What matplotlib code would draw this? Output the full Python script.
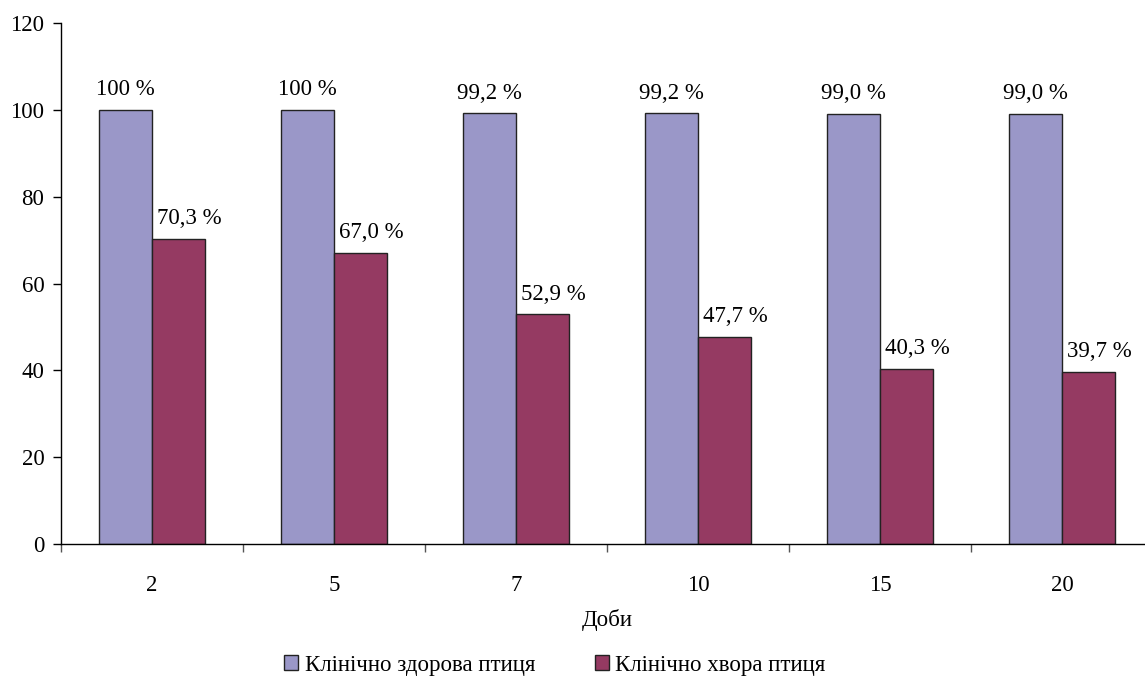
import matplotlib
matplotlib.use("Agg")
import matplotlib.pyplot as plt
import numpy as np
from matplotlib.patches import Patch

days = ["2", "5", "7", "10", "15", "20"]
healthy = [100.0, 100.0, 99.2, 99.2, 99.0, 99.0]
sick = [70.3, 67.0, 52.9, 47.7, 40.3, 39.7]
healthy_labels = ["100 %", "100 %", "99,2 %", "99,2 %", "99,0 %", "99,0 %"]
sick_labels = ["70,3 %", "67,0 %", "52,9 %", "47,7 %", "40,3 %", "39,7 %"]
series_names = ["Клінічно здорова птиця", "Клінічно хвора птиця"]

plt.rcParams["font.family"] = ["Liberation Serif", "DejaVu Serif"]
plt.rcParams["font.size"] = 16

W, H = 1145, 680
fig = plt.figure(figsize=(W / 100, H / 100), dpi=100)
left, right, top, bottom = 61, 1153, 23, 544
ax = fig.add_axes([left / W, 1 - bottom / H, (right - left) / W, (bottom - top) / H])

c_healthy = "#9a97c8"
c_sick = "#953a62"
x = np.arange(len(days))
w = 0.29
ax.bar(x - w / 2, healthy, w, color=c_healthy, edgecolor="#222222", linewidth=1.0)
ax.bar(x + w / 2, sick, w, color=c_sick, edgecolor="#222222", linewidth=1.0)

for xi, v, t in zip(x, healthy, healthy_labels):
    ax.annotate(t, (xi - w / 2, v), xytext=(0, 7), textcoords="offset points",
                ha="center", va="bottom", fontsize=16.5)
for xi, v, t in zip(x, sick, sick_labels):
    ax.annotate(t, (xi + w / 2, v), xytext=(8, 7), textcoords="offset points",
                ha="center", va="bottom", fontsize=16.5)

ax.set_xlim(-0.5, len(days) - 0.5)
ax.set_ylim(0, 120)
ax.set_yticks(range(0, 121, 20))
ax.set_xticks(x)
ax.set_xticklabels(days)
ax.set_xticks(np.arange(-0.5, len(days), 1.0), minor=True)
ax.tick_params(axis="x", which="major", length=0, pad=22, labelsize=16.5)
ax.tick_params(axis="x", which="minor", length=6, width=1, color="#555555", direction="out")
ax.tick_params(axis="y", length=6, width=1, direction="out", pad=6, labelsize=16.5)
for s in ("top", "right"):
    ax.spines[s].set_visible(False)
ax.spines["left"].set_linewidth(1)
ax.spines["bottom"].set_linewidth(1)

ax.set_xlabel("Доби", labelpad=10, fontsize=16.5)

handles = [Patch(facecolor=c_healthy, edgecolor="#222222"),
           Patch(facecolor=c_sick, edgecolor="#222222")]
fig.legend(handles, series_names, loc="center", bbox_to_anchor=(555 / W, 1 - 665 / H),
           ncol=2, frameon=False, handlelength=0.6, handleheight=0.6,
           handletextpad=0.3, columnspacing=2.6, fontsize=16.5)

fig.savefig("out.png", dpi=100)
